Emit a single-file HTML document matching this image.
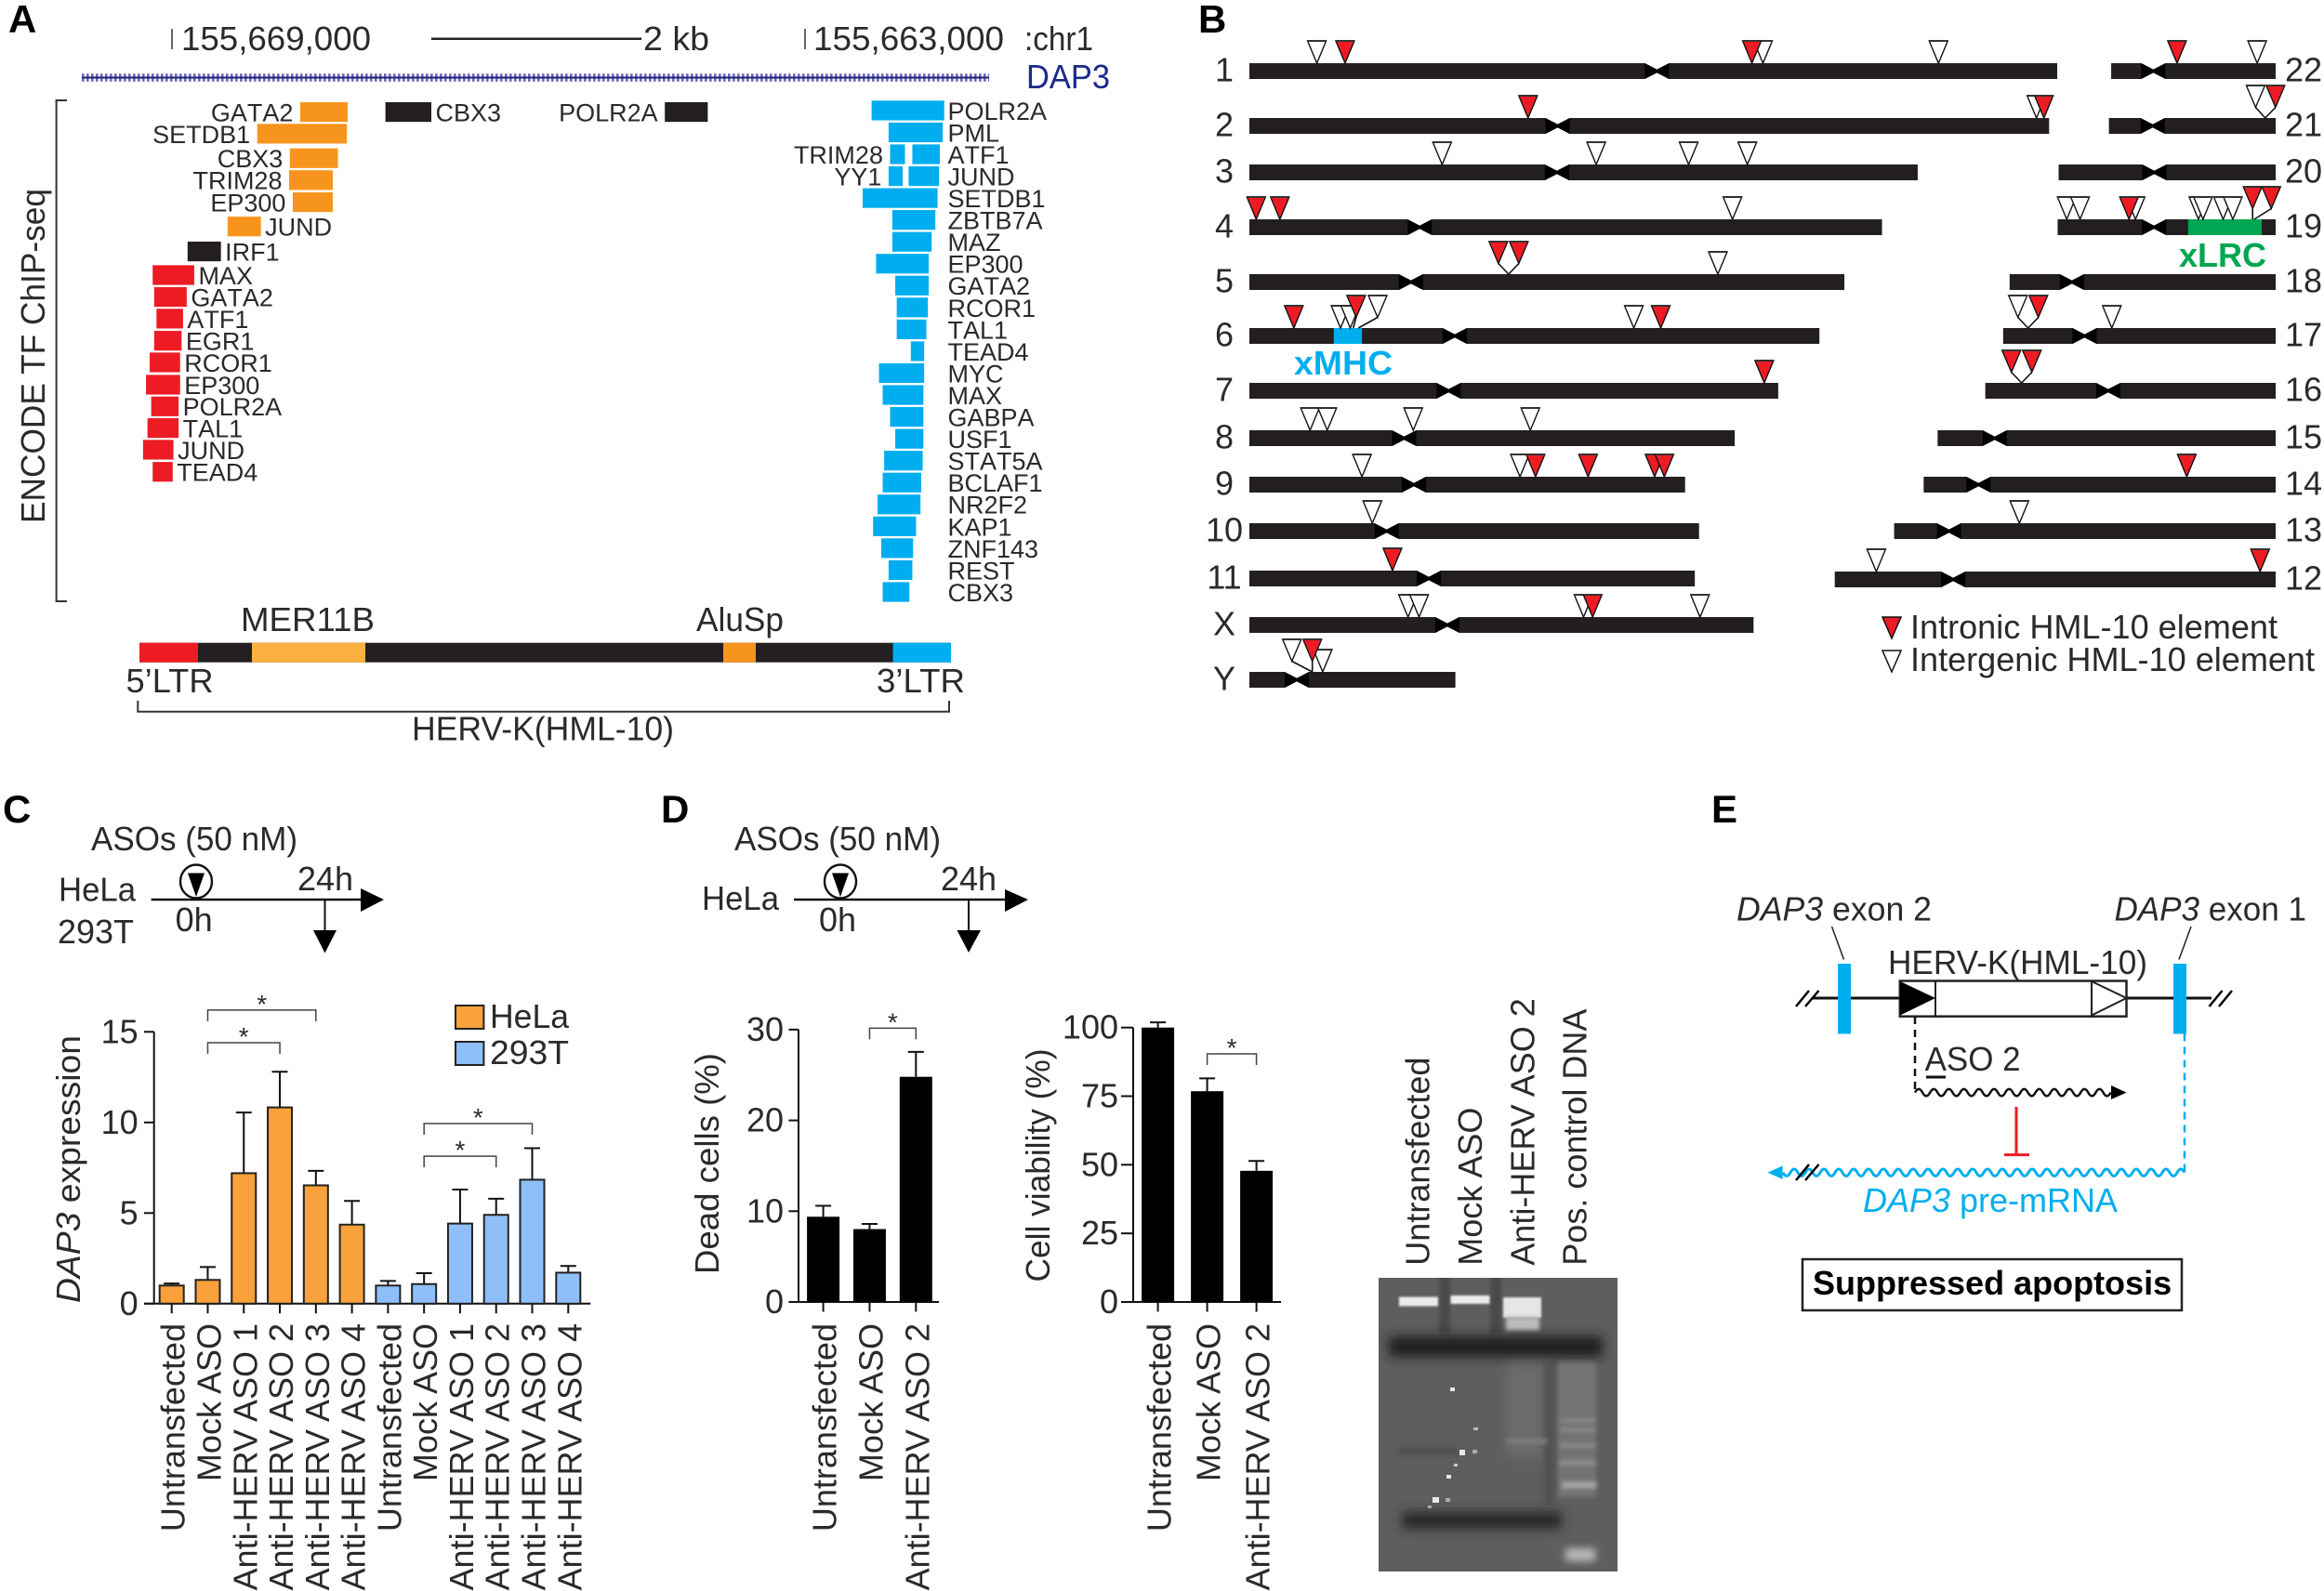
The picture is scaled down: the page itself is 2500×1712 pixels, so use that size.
<!DOCTYPE html>
<html>
<head>
<meta charset="utf-8">
<title>HERV-K(HML-10) figure</title>
<style>
html,body{margin:0;padding:0;background:#fff;}
svg{display:block;font-family:"Liberation Sans",sans-serif;fill:#2c292a;}
text{font-size:36px;}
.panel{font-size:42px;font-weight:bold;fill:#000;}
.small{font-size:27px;font-kerning:none;}
</style>
</head>
<body>
<svg id="figure" xmlns="http://www.w3.org/2000/svg" width="2500" height="1712" viewBox="0 0 2500 1712">
<defs>
<filter id="blur2" filterUnits="userSpaceOnUse" x="1400" y="1300" width="400" height="412"><feGaussianBlur stdDeviation="2"/></filter>
<filter id="blur4" filterUnits="userSpaceOnUse" x="1400" y="1300" width="400" height="412"><feGaussianBlur stdDeviation="4"/></filter>
<filter id="blur6" filterUnits="userSpaceOnUse" x="1400" y="1300" width="400" height="412"><feGaussianBlur stdDeviation="6"/></filter>
<filter id="blur1" filterUnits="userSpaceOnUse" x="1400" y="1300" width="400" height="412"><feGaussianBlur stdDeviation="1"/></filter>
<clipPath id="gel-clip"><rect x="1483" y="1375" width="257" height="316"/></clipPath>
</defs>
<rect width="2500" height="1712" fill="#fff"/>

<!-- Panel letters -->
<text class="panel" x="9" y="35">A</text>
<text class="panel" x="1289" y="35">B</text>
<text class="panel" x="3" y="885">C</text>
<text class="panel" x="711" y="885">D</text>
<text class="panel" x="1841" y="885">E</text>

<!-- Panel A static -->
<g>
<line x1="185" y1="31" x2="185" y2="53" stroke="#333" stroke-width="1.5"/>
<text x="195" y="54" textLength="204" lengthAdjust="spacingAndGlyphs">155,669,000</text>
<line x1="464" y1="41.7" x2="690" y2="41.7" stroke="#222" stroke-width="2.5"/>
<text x="692" y="54" textLength="71" lengthAdjust="spacingAndGlyphs">2 kb</text>
<line x1="866" y1="31" x2="866" y2="53" stroke="#333" stroke-width="1.5"/>
<text x="875" y="54" textLength="205" lengthAdjust="spacingAndGlyphs">155,663,000</text>
<text x="1102" y="54" textLength="74" lengthAdjust="spacingAndGlyphs">:chr1</text>
<line x1="88" y1="83.5" x2="1064" y2="83.5" stroke="#6a6ab6" stroke-width="8.5" stroke-dasharray="2.6 2.4"/>
<line x1="88" y1="83.5" x2="1064" y2="83.5" stroke="#1f1f78" stroke-width="2"/>
<text x="1104" y="95" textLength="90" lengthAdjust="spacingAndGlyphs" style="fill:#1b2a8a">DAP3</text>
</g>
<text transform="translate(48 563) rotate(-90)" textLength="360" lengthAdjust="spacingAndGlyphs">ENCODE TF ChIP-seq</text>
<path d="M72 108H60.6V647H72" fill="none" stroke="#333" stroke-width="2"/>
<g id="peaks"></g>

<g>
<rect x="150" y="691.7" width="873" height="21" fill="#231f20"/>
<rect x="150" y="691.7" width="63" height="21" fill="#ed1c24"/>
<rect x="271" y="691.7" width="122" height="21" fill="#fbb040"/>
<rect x="778" y="691.7" width="35" height="21" fill="#f7941d"/>
<rect x="960.6" y="691.7" width="62.4" height="21" fill="#00aeef"/>
<text x="259" y="679" textLength="144" lengthAdjust="spacingAndGlyphs">MER11B</text>
<text x="749" y="679" textLength="94" lengthAdjust="spacingAndGlyphs">AluSp</text>
<text x="135.5" y="745" textLength="94" lengthAdjust="spacingAndGlyphs">5’LTR</text>
<text x="943" y="745" textLength="95" lengthAdjust="spacingAndGlyphs">3’LTR</text>
<path d="M148.3 754V765.7H1021V754" fill="none" stroke="#333" stroke-width="2"/>
<text x="443" y="796.7" textLength="282" lengthAdjust="spacingAndGlyphs">HERV-K(HML-10)</text>
</g>

<!-- Panel B -->
<g id="ideogram"></g>
<text x="1392" y="403" textLength="106" lengthAdjust="spacingAndGlyphs" style="fill:#00aeef;font-weight:bold">xMHC</text>
<text x="2344" y="287" textLength="94" lengthAdjust="spacingAndGlyphs" style="fill:#00a651;font-weight:bold">xLRC</text>
<g>
<polygon points="2025,664 2045,664 2035,687" fill="#ed1c24" stroke="#111" stroke-width="1.5"/>
<text x="2055" y="687" textLength="395" lengthAdjust="spacingAndGlyphs">Intronic HML-10 element</text>
<polygon points="2025,700 2045,700 2035,723" fill="#fff" stroke="#111" stroke-width="1.5"/>
<text x="2055" y="722" textLength="435" lengthAdjust="spacingAndGlyphs">Intergenic HML-10 element</text>
</g>

<!-- Panel C scheme -->
<g>
<text x="98" y="915" textLength="222" lengthAdjust="spacingAndGlyphs">ASOs (50 nM)</text>
<text x="63" y="969.6" textLength="83" lengthAdjust="spacingAndGlyphs">HeLa</text>
<text x="62" y="1015" textLength="82" lengthAdjust="spacingAndGlyphs">293T</text>
<line x1="162.6" y1="968" x2="390" y2="968" stroke="#111" stroke-width="2.5"/>
<polygon points="388,956 413,968 388,981" fill="#000"/>
<ellipse cx="211" cy="948.5" rx="17" ry="18" fill="none" stroke="#111" stroke-width="2.4"/>
<polygon points="202,939.5 220,939.5 211,965" fill="#000"/>
<text x="188.6" y="1002">0h</text>
<text x="320" y="958">24h</text>
<line x1="349.5" y1="968" x2="349.5" y2="1004" stroke="#111" stroke-width="2"/>
<polygon points="337,1001 362,1001 349.5,1025.500" fill="#000"/>
</g>
<g id="chart-c"></g>
<text transform="translate(86 1402) rotate(-90)" textLength="288" lengthAdjust="spacingAndGlyphs"><tspan font-style="italic">DAP3</tspan> expression</text>
<g>
<rect x="490" y="1082" width="30.4" height="25" fill="#f9a13a" stroke="#222" stroke-width="2"/>
<text x="527" y="1106" textLength="85" lengthAdjust="spacingAndGlyphs">HeLa</text>
<rect x="490" y="1121" width="30.4" height="25" fill="#8fbff8" stroke="#222" stroke-width="2"/>
<text x="527" y="1145" textLength="85" lengthAdjust="spacingAndGlyphs">293T</text>
</g>

<!-- Panel D scheme -->
<g>
<text x="790" y="915" textLength="222" lengthAdjust="spacingAndGlyphs">ASOs (50 nM)</text>
<text x="755" y="979" textLength="83" lengthAdjust="spacingAndGlyphs">HeLa</text>
<line x1="854" y1="968" x2="1083.5" y2="968" stroke="#111" stroke-width="2.5"/>
<polygon points="1081,957 1106,968 1081,981" fill="#000"/>
<ellipse cx="904" cy="948.5" rx="17" ry="18" fill="none" stroke="#111" stroke-width="2.4"/>
<polygon points="895,939.5 913,939.5 904,965" fill="#000"/>
<text x="881" y="1002">0h</text>
<text x="1012" y="958">24h</text>
<line x1="1042" y1="968" x2="1042" y2="1004" stroke="#111" stroke-width="2"/>
<polygon points="1029.5,1001 1055,1001 1042,1025" fill="#000"/>
</g>
<g id="chart-dead"></g>
<text transform="translate(773 1371) rotate(-90)" textLength="238" lengthAdjust="spacingAndGlyphs">Dead cells (%)</text>
<g id="chart-via"></g>
<text transform="translate(1129 1379.5) rotate(-90)" textLength="251" lengthAdjust="spacingAndGlyphs">Cell viability (%)</text>

<!-- Gel -->
<g>
<text transform="translate(1537.5 1361.7) rotate(-90)">Untransfected</text>
<text transform="translate(1594 1361.7) rotate(-90)">Mock ASO</text>
<text transform="translate(1650.5 1361.7) rotate(-90)">Anti-HERV ASO 2</text>
<text transform="translate(1706.7 1361.7) rotate(-90)">Pos. control DNA</text>
</g>
<g clip-path="url(#gel-clip)">
<rect x="1483" y="1375" width="257" height="316" fill="#5e5e5e"/>
<rect x="1548" y="1370" width="12" height="65" fill="#494949" filter="url(#blur2)"/>
<rect x="1603" y="1370" width="12" height="65" fill="#494949" filter="url(#blur2)"/>
<rect x="1494" y="1438" width="230" height="22" fill="#1e1e1e" filter="url(#blur6)"/>
<rect x="1508" y="1627" width="172" height="18" fill="#282828" filter="url(#blur6)"/>
<rect x="1621" y="1468" width="40" height="100" fill="#6c6c6c" filter="url(#blur6)"/>
<rect x="1662" y="1465" width="9" height="155" fill="#4e4e4e" filter="url(#blur4)"/>
<rect x="1676" y="1466" width="41" height="145" fill="#737373" filter="url(#blur2)"/>
<rect x="1678" y="1526" width="38" height="5" fill="#868686" filter="url(#blur2)"/>
<rect x="1678" y="1536" width="38" height="5" fill="#868686" filter="url(#blur2)"/>
<rect x="1678" y="1553" width="38" height="5" fill="#8a8a8a" filter="url(#blur2)"/>
<rect x="1678" y="1571" width="38" height="6" fill="#8e8e8e" filter="url(#blur2)"/>
<rect x="1680" y="1594" width="37" height="8" fill="#a0a0a0" filter="url(#blur2)"/>
<rect x="1684" y="1666" width="32" height="14" fill="#b8b8b8" filter="url(#blur4)"/>
<rect x="1620" y="1548" width="44" height="6" fill="#7c7c7c" filter="url(#blur2)"/>
<rect x="1503" y="1558" width="66" height="7" fill="#4c4c4c" filter="url(#blur4)"/>
<rect x="1505" y="1395.500" width="42" height="10" fill="#ececec" filter="url(#blur1)"/>
<rect x="1560.500" y="1394" width="42" height="9" fill="#ececec" filter="url(#blur1)"/>
<rect x="1617" y="1396" width="41" height="22" fill="#e6e6e6" filter="url(#blur1)"/>
<rect x="1620" y="1417" width="36" height="14" fill="#bdbdbd" filter="url(#blur2)"/>
<g fill="#e8e8e8">
<rect x="1560" y="1493" width="5" height="4"/><rect x="1585" y="1536" width="5" height="3" fill="#bbb"/><rect x="1570" y="1560" width="6" height="6"/><rect x="1584" y="1560" width="5" height="4" fill="#aaa"/><rect x="1564" y="1575" width="4" height="3" fill="#ccc"/><rect x="1556" y="1587" width="5" height="4"/><rect x="1541" y="1611" width="7" height="6"/><rect x="1555" y="1612" width="5" height="4" fill="#aaa"/><rect x="1536" y="1620" width="4" height="3" fill="#aaa"/>
</g>
</g>

<!-- Panel E -->
<g>
<text x="1868" y="990.4" textLength="210" lengthAdjust="spacingAndGlyphs"><tspan font-style="italic">DAP3</tspan> exon 2</text>
<text x="2274.5" y="990.4" textLength="206.5" lengthAdjust="spacingAndGlyphs"><tspan font-style="italic">DAP3</tspan> exon 1</text>
<line x1="1970.5" y1="997" x2="1983.5" y2="1032.5" stroke="#222" stroke-width="1.5"/>
<line x1="2357" y1="997" x2="2344" y2="1032.5" stroke="#222" stroke-width="1.5"/>
<line x1="1950" y1="1074" x2="2044" y2="1074" stroke="#111" stroke-width="3"/>
<line x1="2288" y1="1074" x2="2379" y2="1074" stroke="#111" stroke-width="3"/>
<rect x="1977" y="1037" width="14" height="75.5" fill="#00aeef"/>
<rect x="2338" y="1037" width="14" height="75.5" fill="#00aeef"/>
<path d="M1932 1083L1946 1066M1942 1083L1956.500 1066" stroke="#000" stroke-width="2.5" fill="none"/>
<path d="M2376.500 1083L2390.500 1066M2387 1083L2401 1066" stroke="#000" stroke-width="2.5" fill="none"/>
<text x="2031" y="1048" textLength="279" lengthAdjust="spacingAndGlyphs">HERV-K(HML-10)</text>
<rect x="2043.800" y="1055.500" width="243.700" height="38.200" fill="#fff" stroke="#222" stroke-width="2.500"/>
<line x1="2082" y1="1055.500" x2="2082" y2="1093.700" stroke="#222" stroke-width="2"/>
<line x1="2250" y1="1055.500" x2="2250" y2="1093.700" stroke="#222" stroke-width="2"/>
<polygon points="2044,1056 2082,1074 2044,1092.500" fill="#000"/>
<polygon points="2250,1056 2287.500,1074 2250,1092.500" fill="#fff" stroke="#222" stroke-width="2"/>
<line x1="2060" y1="1094" x2="2060" y2="1175" stroke="#111" stroke-width="2.500" stroke-dasharray="8 6"/>
<text x="2070.600" y="1152" textLength="103" lengthAdjust="spacingAndGlyphs">ASO 2</text>
<line x1="2072" y1="1159" x2="2093" y2="1159" stroke="#111" stroke-width="3"/>
<path id="wave-black" fill="none" stroke="#111" stroke-width="2.500"/>
<polygon points="2271,1168 2287.500,1175.600 2271,1183" fill="#000"/>
<line x1="2169" y1="1191" x2="2169" y2="1242.600" stroke="#ed1c24" stroke-width="3"/>
<line x1="2156" y1="1242.600" x2="2183" y2="1242.600" stroke="#ed1c24" stroke-width="3"/>
<line x1="2350" y1="1112.500" x2="2350" y2="1261" stroke="#00aeef" stroke-width="2.500" stroke-dasharray="8 6"/>
<path id="wave-blue" fill="none" stroke="#00aeef" stroke-width="3"/>
<polygon points="1917.600,1254.500 1901.500,1261.700 1917.600,1269" fill="#00aeef"/>
<path d="M1932 1270L1946 1253M1942 1270L1956.500 1253" stroke="#000" stroke-width="2.500" fill="none"/>
<text x="2004" y="1304" textLength="274" lengthAdjust="spacingAndGlyphs" style="fill:#00aeef"><tspan font-style="italic">DAP3</tspan> pre-mRNA</text>
<rect x="1939" y="1355" width="408" height="55" fill="#fff" stroke="#222" stroke-width="2.500"/>
<text x="1950" y="1393" style="font-weight:bold;fill:#000">Suppressed apoptosis</text>
</g>

<script>
/* ---------- Panel A: ChIP-seq peaks, bp to the right of the 155,669,000 tick ---------- */
const orangeNames = ['GATA2','SETDB1','CBX3','TRIM28','EP300','JUND'];
const orangeStarts = [1215,808,1117,1110,1145,527];
const orangeEnds = [1665,1658,1573,1524,1524,843];
const orangeTracks = [0.07,1.06,2.18,3.18,4.19,5.3];
const orangeSides = ['L','L','L','L','L','R'];

const blackNames = ['CBX3','POLR2A','IRF1'];
const blackStarts = [2023,4671,148];
const blackEnds = [2458,5078,464];
const blackTracks = [0.07,0.07,6.44];
const blackSides = ['R','L','R'];

const redNames = ['MAX','GATA2','ATF1','EGR1','RCOR1','EP300','POLR2A','TAL1','JUND','TEAD4'];
const redStarts = [-183,-169,-147,-169,-211,-246,-197,-232,-274,-183];
const redEnds = [211,140,105,91,77,77,63,63,14,7];
const redTracks = [7.52,8.52,9.51,10.52,11.51,12.53,13.52,14.51,15.5,16.51];
const redSides = ['R','R','R','R','R','R','R','R','R','R'];

const blueNames = ['POLR2A','PML','TRIM28','ATF1','YY1','JUND','SETDB1','ZBTB7A','MAZ','EP300','GATA2','RCOR1','TAL1','TEAD4','MYC','MAX','GABPA','USF1','STAT5A','BCLAF1','NR2F2','KAP1','ZNF143','REST','CBX3'];
const blueStarts = [6631,6792,6806,7017,6792,6982,6546,6827,6827,6673,6855,6869,6869,7003,6701,6736,6806,6855,6750,6736,6687,6645,6722,6792,6736];
const blueEnds = [7319,7305,6947,7277,6926,7270,7256,7235,7200,7172,7172,7164,7150,7129,7129,7122,7122,7122,7115,7101,7094,7052,7024,7017,6989];
const blueTracks = [0,1,2,2,3,3,4,5,6,7,8,9,10,11,12,13,14,15,16,17,18,19,20,21,22];
const blueSides = ['C','C','L','C','L','C','C','C','C','C','C','C','C','C','C','C','C','C','C','C','C','C','C','C','C'];

/* ---------- Panel B: ideogram, all in Mb ---------- */
const leftChromosomes = ['1','2','3','4','5','6','7','8','9','10','11','X','Y'];
const leftLengths = [249,246.5,206,195,183.4,175.7,163,149.6,134.3,138.6,137.3,155.4,63.5];
const leftCentromeres = [125.6,95,94.8,52.5,49.8,63.3,61.4,47.7,50.7,42.3,55.3,61,14.6];
const rightChromosomes = ['22','21','20','19','18','17','16','15','14','13','12'];
const rightLengths = [50.7,51.4,66.9,67.2,82,84,89.5,104.2,108.5,117.6,135.9];
const rightCentromeres = [13,13.5,29.5,29.7,19.2,25.1,37.9,17.6,16.9,16.9,36.5];

const intronicSites = [['1',29.5],['1',154.9],['2',85.9],['2',244.9],['4',2.1],['4',9.4],['5',79.9],['5',79.9],['6',13.7],['6',32],['6',126.8],['7',158.7],['9',88.2],['9',104.4],['9',124.9],['9',127.9],['11',44.1],['X',105.8],['Y',19.4],['22',20.3],['21',48.2],['19',22],['19',60.1],['19',60.6],['17',7.7],['16',11.2],['16',11.2],['14',81.1],['12',131.1]];
const intergenicSites = [['1',20.8],['1',158.3],['1',212.4],['2',242.6],['3',59.4],['3',106.9],['3',135.4],['3',153.5],['4',148.9],['5',144.4],['6',28.1],['6',31.1],['6',33.6],['6',118.5],['8',18.7],['8',24],['8',50.5],['8',86.6],['9',34.7],['9',83.4],['10',37.9],['X',48.9],['X',52.3],['X',103],['X',138.9],['Y',19.4],['Y',22.6],['22',45],['21',48.2],['19',2.8],['19',6.9],['19',24],['19',43.4],['19',44.8],['19',51],['19',54],['17',7.7],['17',33.5],['13',38.6],['12',12.8]];
const xmhcRange = [26,34.7];
const xlrcRange = [40.2,62.9];

/* ---------- Panel C values ---------- */
const cCategories = ['Untransfected','Mock ASO','Anti-HERV ASO 1','Anti-HERV ASO 2','Anti-HERV ASO 3','Anti-HERV ASO 4'];
const helaValues = [1.0,1.31,7.2,10.83,6.53,4.36];
const helaUpper = [1.11,2.02,10.55,12.8,7.33,5.67];
const t293Values = [1.0,1.08,4.42,4.9,6.84,1.71];
const t293Upper = [1.25,1.68,6.3,5.79,8.58,2.08];
const cTicks = [0,5,10,15];
const cBrackets = [[1,4,16.2],[1,3,14.4],[7,10,9.94],[7,9,8.14]];

/* ---------- Panel D values ---------- */
const dCategories = ['Untransfected','Mock ASO','Anti-HERV ASO 2'];
const deadValues = [9.39,8.03,24.8];
const deadUpper = [10.6,8.6,27.55];
const deadTicks = [0,10,20,30];
const deadBrackets = [[1,2,30.15]];
const viabilityValues = [100,76.8,47.8];
const viabilityUpper = [101.9,81.5,51.4];
const viabilityTicks = [0,25,50,75,100];
const viabilityBrackets = [[1,2,90.4]];

const NS = 'http://www.w3.org/2000/svg';
function mk(tag, parent) {
  const el = document.createElementNS(NS, tag);
  parent.appendChild(el);
  return el;
}
function attrs(el, o) {
  for (const k in o) el.setAttribute(k, o[k]);
  return el;
}

/* ---- axis functions ---- */
const peakX = bp => 185 + bp * 0.1135;
const trackY = t => 108.3 + t * 23.55;
const mbLeft = mb => 1344 + mb * 3.49;
const mbRight = (mb, len) => 2448 - (len - mb) * 3.49;
const xC = i => 184.7 + i * 38.78;
const yC = v => 1402.8 - v * 19.5;
const xDead = i => 885.6 + i * 49.85;
const yDead = v => 1401 - v * 9.77;
const xVia = i => 1245.6 + i * 53;
const yVia = v => 1401 - v * 2.953;

/* ---- Panel A ---- */
function drawPeaks(group, color, names, starts, ends, tracks, sides) {
  const root = document.getElementById('peaks');
  const PEAK_H = 21.2;
  names.forEach((name, i) => {
    const x0 = peakX(starts[i]), x1 = peakX(ends[i]), y = trackY(tracks[i]);
    const bar = mk('rect', root);
    
    
    attrs(bar, {x: x0, y: y, width: x1 - x0, height: PEAK_H, fill: color});
    const label = mk('text', root);
    
    
    label.setAttribute('class', 'small');
    label.textContent = name;
    let lx = x1 + 4.5, anchor = 'start';
    if (sides[i] === 'L') { lx = x0 - 7.5; anchor = 'end'; }
    if (sides[i] === 'C') { lx = 1019.5; }
    attrs(label, {x: lx, y: y + 20.5, 'text-anchor': anchor});
  });
}
drawPeaks('orange', '#f7941d', orangeNames, orangeStarts, orangeEnds, orangeTracks, orangeSides);
drawPeaks('black', '#231f20', blackNames, blackStarts, blackEnds, blackTracks, blackSides);
drawPeaks('red', '#ed1c24', redNames, redStarts, redEnds, redTracks, redSides);
drawPeaks('blue', '#00aeef', blueNames, blueStarts, blueEnds, blueTracks, blueSides);

/* ---- Panel B ---- */
const ideogram = document.getElementById('ideogram');
const rowTopLayout = {'1':68,'2':127,'3':177,'4':236,'5':295,'6':353,'7':412,'8':463,'9':513,'10':563,'11':614,'X':664,'Y':723,
  '22':68,'21':127,'20':177,'19':236,'18':295,'17':353,'16':412,'15':463,'14':513,'13':563,'12':615};
const CHR_H = 17, NOTCH = 13;
const chrX = {};
function drawChromosome(name, len, cen, side) {
  const xf = side === 'L' ? (mb => mbLeft(mb)) : (mb => mbRight(mb, len));
  chrX[name] = xf;
  const top = rowTopLayout[name], bot = top + CHR_H, c = xf(cen), x0 = xf(0), x1 = xf(len);
  const body = mk('path', ideogram);
  
  
  attrs(body, {fill: '#231f20', d: `M${x0} ${top}H${c - NOTCH}L${c} ${top + 6.8}L${c + NOTCH} ${top}H${x1}V${bot}H${c + NOTCH}L${c} ${bot - 6.8}L${c - NOTCH} ${bot}H${x0}Z`});
  const bow = mk('path', ideogram);
  
  
  attrs(bow, {fill: '#000', d: `M${c - NOTCH} ${top}L${c} ${top + 6.8}L${c + NOTCH} ${top}V${bot}L${c} ${bot - 6.8}L${c - NOTCH} ${bot}Z`});
  const label = mk('text', ideogram);
  
  
  label.textContent = name;
  attrs(label, side === 'L' ? {x: 1317, y: top + 19.5, 'text-anchor': 'middle'} : {x: 2458, y: top + 19.5});
}
leftChromosomes.forEach((n, i) => drawChromosome(n, leftLengths[i], leftCentromeres[i], 'L'));
rightChromosomes.forEach((n, i) => drawChromosome(n, rightLengths[i], rightCentromeres[i], 'R'));

function drawRegion(name, chr, range, color) {
  const r = mk('rect', ideogram);
  
  
  const x0 = chrX[chr](range[0]), x1 = chrX[chr](range[1]);
  attrs(r, {x: x0, y: rowTopLayout[chr], width: x1 - x0, height: CHR_H, fill: color});
}
drawRegion('xmhc-region', '6', xmhcRange, '#00aeef');
drawRegion('xlrc-region', '19', xlrcRange, '#00a651');

/* leader-line head shifts (drawing layout only), keyed by index within each site list */
const intronicCallouts = {6:-11,7:11,9:3.2,18:0,20:11,22:0,23:18.3,24:11,25:-11,26:11};
const intergenicCallouts = {12:20.7,25:-22,28:-10.4,36:-11};
function drawSite(site, color, kind, shift) {
  const chr = site[0], tx = chrX[chr](site[1]), top = rowTopLayout[chr];
  const lifted = shift !== undefined;
  const hx = tx + (lifted ? shift : 0);
  const headTop = top - (lifted ? 35 : 24);
  const headTip = headTop + (lifted ? 23.5 : 24);
  if (lifted) {
    const lead = mk('line', ideogram);
    
    
    attrs(lead, {x1: hx, y1: headTip, x2: tx, y2: top, stroke: '#111', 'stroke-width': 1.6});
  }
  const tri = mk('polygon', ideogram);
  
  
  attrs(tri, {points: `${hx - 10},${headTop} ${hx + 10},${headTop} ${hx},${headTip}`, fill: color, stroke: '#111', 'stroke-width': 1.4});
  const cap = mk('line', ideogram);
  
  
  attrs(cap, {x1: hx - 10, x2: hx + 10, y1: headTop, y2: headTop, stroke: '#333', 'stroke-width': 2});
}
intergenicSites.forEach((s, i) => drawSite(s, '#fff', 'intergenic', intergenicCallouts[i]));
intronicSites.forEach((s, i) => drawSite(s, '#ed1c24', 'intronic', intronicCallouts[i]));

/* ---- Bar charts ---- */
function drawAxes(root, ticks, yf, axisX, tickX, labelX, baseLeft, baseRight, prefix) {
  const yAxis = mk('line', root);
  
  
  attrs(yAxis, {x1: axisX, x2: axisX, y1: yf(ticks[ticks.length - 1]), y2: yf(0), stroke: '#111', 'stroke-width': 2});
  const xAxis = mk('line', root);
  
  
  attrs(xAxis, {x1: baseLeft, x2: baseRight, y1: yf(0), y2: yf(0), stroke: '#111', 'stroke-width': 2});
  ticks.forEach(t => {
    const tick = mk('line', root);
    
    
    attrs(tick, {x1: tickX, x2: axisX, y1: yf(t), y2: yf(t), stroke: '#111', 'stroke-width': 2});
    const label = mk('text', root);
    
    
    label.textContent = t;
    attrs(label, {x: labelX, y: yf(t) + 12, 'text-anchor': 'end'});
  });
}
function drawBars(root, prefix, categories, values, upper, xf, yf, firstIndex, barW, fill, stroke) {
  values.forEach((v, k) => {
    const i = firstIndex + k, cx = xf(i), name = prefix + '-' + categories[k].toLowerCase().replace(/[^a-z0-9]+/g, '-');
    const err = mk('path', root);
    
    
    attrs(err, {d: `M${cx} ${yf(v)}V${yf(upper[k])}M${cx - 8.5} ${yf(upper[k])}H${cx + 8.5}`, fill: 'none', stroke: '#111', 'stroke-width': 2});
    const bar = mk('rect', root);
    
    
    attrs(bar, {x: cx - barW / 2, y: yf(v), width: barW, height: yf(0) - yf(v), fill: fill});
    if (stroke) attrs(bar, {stroke: stroke, 'stroke-width': 2});
    const tick = mk('line', root);
    
    
    attrs(tick, {x1: cx, x2: cx, y1: yf(0), y2: yf(0) + 10.5, stroke: '#111', 'stroke-width': 2});
    const label = mk('text', root);
    
    
    label.textContent = categories[k];
    attrs(label, {'text-anchor': 'end', transform: `translate(${cx + 14} 1424) rotate(-90)`});
  });
}
function drawBrackets(root, prefix, brackets, xf, yf) {
  brackets.forEach((b, n) => {
    const x0 = xf(b[0]), x1 = xf(b[1]), y = yf(b[2]);
    const path = mk('path', root);
    
    
    attrs(path, {d: `M${x0} ${y + 12}V${y}H${x1}V${y + 12}`, fill: 'none', stroke: '#444', 'stroke-width': 1.5});
    const star = mk('text', root);
    
    
    star.textContent = '*';
    attrs(star, {x: (x0 + x1) / 2, y: y + 3, 'text-anchor': 'middle', style: 'font-size:28px'});
  });
}

const chartC = document.getElementById('chart-c');
drawAxes(chartC, cTicks, yC, 165.7, 155, 148.7, 155, 635.3, 'c');
drawBars(chartC, 'hela', cCategories, helaValues, helaUpper, xC, yC, 0, 26, '#f9a13a', '#222');
drawBars(chartC, 't293', cCategories, t293Values, t293Upper, xC, yC, 6, 26, '#8fbff8', '#222');
drawBrackets(chartC, 'c', cBrackets, xC, yC);

const chartDead = document.getElementById('chart-dead');
drawAxes(chartDead, deadTicks, yDead, 859, 848.4, 843, 855, 1010, 'dead');
drawBars(chartDead, 'dead', dCategories, deadValues, deadUpper, xDead, yDead, 0, 35, '#000', null);
drawBrackets(chartDead, 'dead', deadBrackets, xDead, yDead);

const chartVia = document.getElementById('chart-via');
drawAxes(chartVia, viabilityTicks, yVia, 1219, 1206, 1203, 1210, 1378, 'viability');
drawBars(chartVia, 'viability', dCategories, viabilityValues, viabilityUpper, xVia, yVia, 0, 35, '#000', null);
drawBrackets(chartVia, 'viability', viabilityBrackets, xVia, yVia);

/* ---- Panel E waves ---- */
function wavePath(x0, y, halfWaves, step) {
  let d = `M${x0} ${y}q${step / 2} -7.5 ${step} 0`;
  for (let i = 1; i < halfWaves; i++) d += `t${step} 0`;
  return d;
}
document.getElementById('wave-black').setAttribute('d', wavePath(2060, 1175.6, 26, 8.1));
document.getElementById('wave-blue').setAttribute('d', wavePath(2350, 1261.7, 54, -8));
</script>
</svg>
</body>
</html>
